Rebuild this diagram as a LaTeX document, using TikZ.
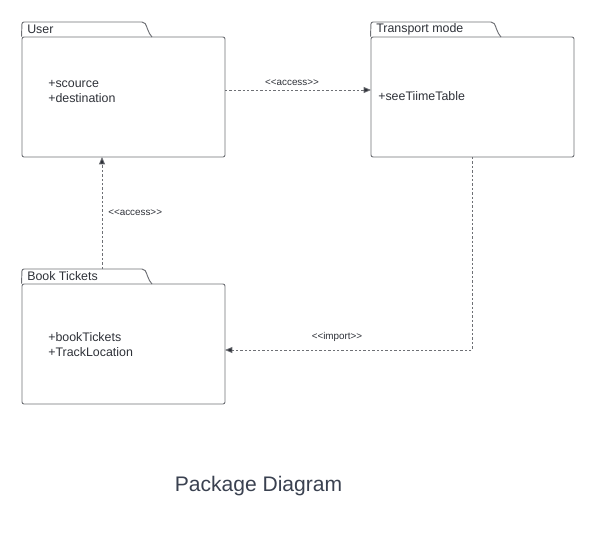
\documentclass[tikz,border=0pt]{standalone}
\usepackage{fontspec}
\setmainfont{Liberation Sans}
\usetikzlibrary{arrows.meta}
\definecolor{linec}{HTML}{6E7075}
\definecolor{txtc}{HTML}{2E3138}
\definecolor{titlec}{HTML}{3A4150}
\tikzset{
  pkgbody/.style={draw=linec, line width=0.7pt, rounded corners=1.5pt, minimum width=152.25pt, minimum height=90pt, inner sep=0pt},
  pkgtab/.style={draw=linec, line width=0.7pt, rounded corners=1.5pt},
  pkgname/.style={anchor=west, inner sep=0pt, font=\fontsize{9.3pt}{11pt}\selectfont, text=txtc},
  members/.style={anchor=west, inner sep=0pt, align=left, font=\fontsize{9.3pt}{11.25pt}\selectfont, text=txtc},
  dep/.style={draw=linec, line width=0.6pt, dash pattern=on 1.8pt off 1.5pt, -{Triangle[length=5.5pt,width=4.5pt,fill=txtc]}},
  deplabel/.style={inner sep=0pt, font=\fontsize{7.4pt}{9pt}\selectfont, text=txtc},
}
\begin{document}
\begin{tikzpicture}[x=0.75pt,y=-0.75pt]
\useasboundingbox (0,0) rectangle (596,540);
% User
\node[pkgbody] (user) at (123.5,97) {};
\draw[pkgtab] (user.north west) -- (22,22) -- (144,22) .. controls (147,26) and (148,33) .. (152,37);
\node[pkgname] (userlbl) at (27,29) {User};
\node[members] (usermem) at (48,91) {+scource\\+destination};
% Transport mode
\node[pkgbody] (trans) at (472.5,97) {};
\draw[pkgtab] (trans.north west) -- (371,22) -- (493,22) .. controls (496,26) and (497,33) .. (501,37);
\node[pkgname] (translbl) at (376,29) {Transport mode};
\node[members] (transmem) at (378,96.5) {+seeTiimeTable};
% Book Tickets
\node[pkgbody] (book) at (123.5,344) {};
\draw[pkgtab] (book.north west) -- (22,269) -- (144,269) .. controls (147,273) and (148,280) .. (152,284);
\node[pkgname] (booklbl) at (27,276) {Book Tickets};
\node[members] (bookmem) at (48,344.5) {+bookTickets\\+TrackLocation};
% connectors
\coordinate (c1) at (225,90);
\coordinate (c2) at (371,90);
\draw[dep] (c1) -- (c2);
\node[deplabel] (l1) at (292,83) {<{}<access>{}>};
\coordinate (b1) at (102,269);
\coordinate (u1) at (102,157);
\draw[dep] (b1) -- (u1);
\node[deplabel, anchor=west] (l2) at (108,213) {<{}<access>{}>};
\coordinate (t1) at (472,157);
\coordinate (k1) at (225,350);
\draw[dep] (t1) |- (k1);
\node[deplabel] (l3) at (337,337) {<{}<import>{}>};
% title
\node[font=\fontsize{15.8pt}{18pt}\selectfont, text=titlec, inner sep=0pt] (title) at (258.5,486) {Package Diagram};
\end{tikzpicture}
\end{document}
